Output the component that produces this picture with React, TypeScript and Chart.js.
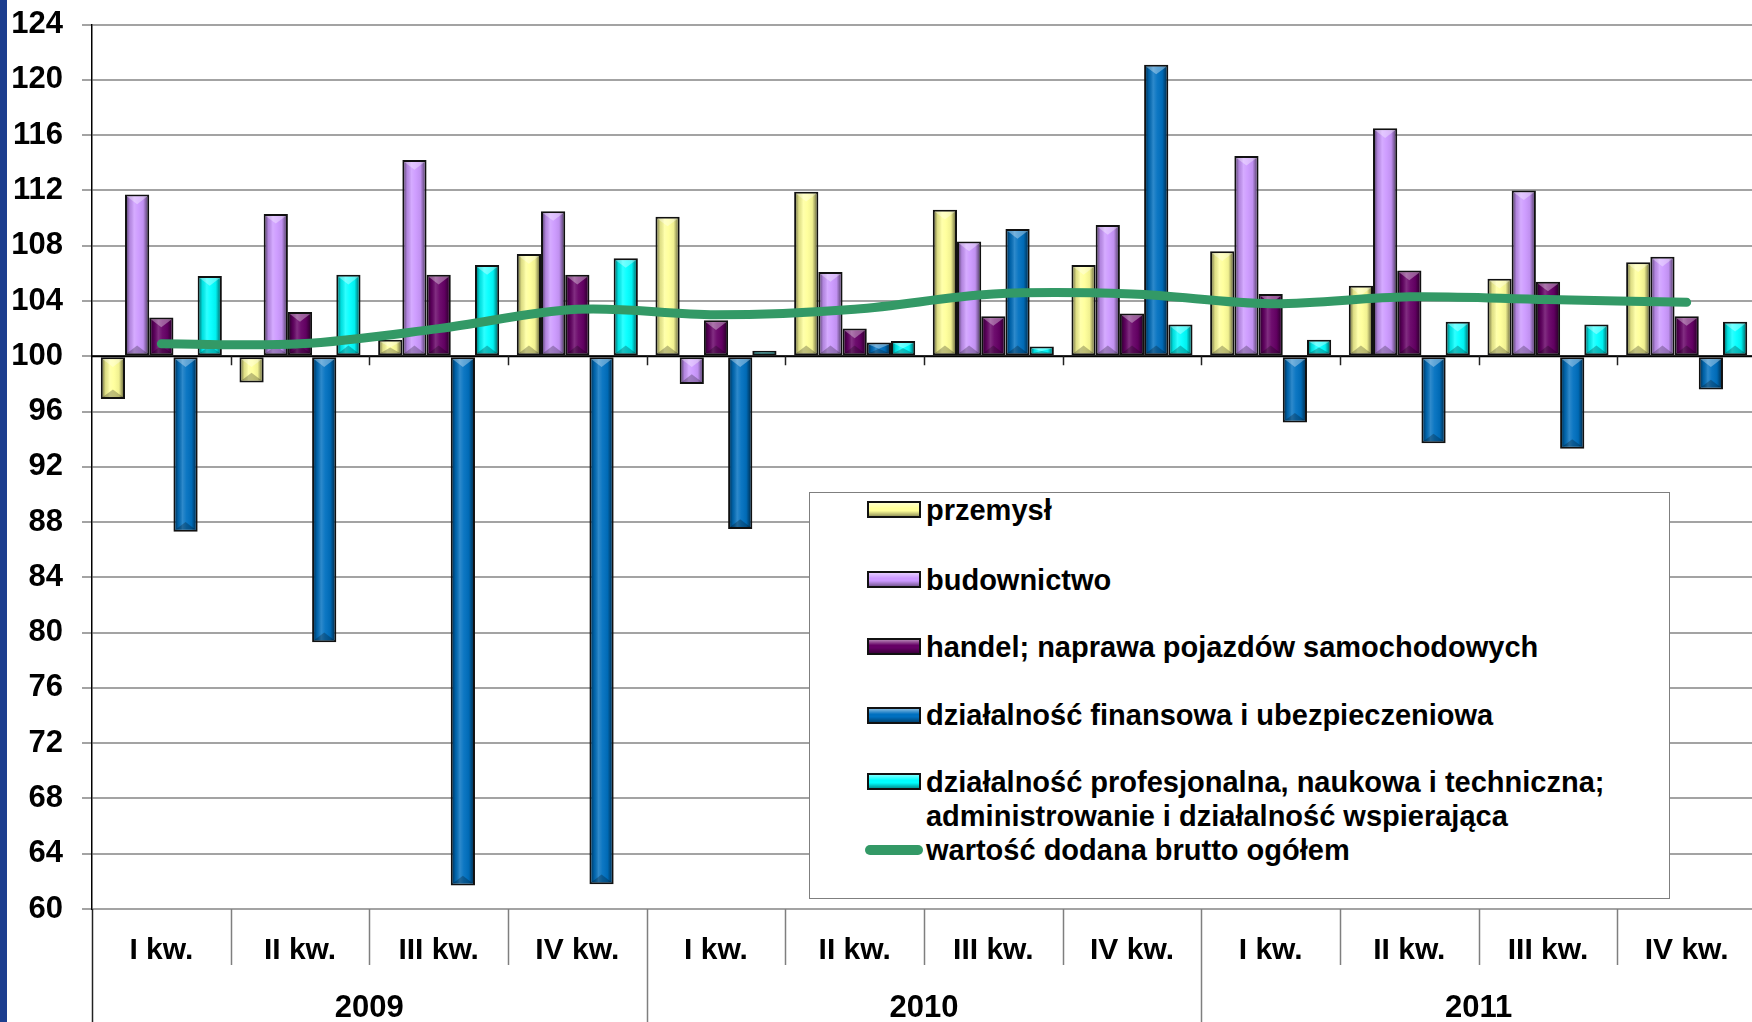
import React, { useEffect, useRef } from 'react';
import { Chart, registerables } from 'chart.js';

Chart.register(...registerables);

// ---------- DATA ----------
const quarterLabels = ['I kw.', 'II kw.', 'III kw.', 'IV kw.', 'I kw.', 'II kw.', 'III kw.', 'IV kw.', 'I kw.', 'II kw.', 'III kw.', 'IV kw.'];
const yearLabels = ['2009', '2010', '2011'];

const przemysl = [96.9, 98.1, 101.2, 107.4, 110.1, 111.9, 110.6, 106.6, 107.6, 105.1, 105.6, 106.8];
const budownictwo = [111.7, 110.3, 114.2, 110.5, 98.0, 106.1, 108.3, 109.5, 114.5, 116.5, 112.0, 107.2];
const handel = [102.8, 103.2, 105.9, 105.9, 102.6, 102.0, 102.9, 103.1, 104.5, 106.2, 105.4, 102.9];
const finanse = [87.3, 79.3, 61.7, 61.8, 87.5, 101.0, 109.2, 121.1, 95.2, 93.7, 93.3, 97.6];
const profesjonalna = [105.8, 105.9, 106.6, 107.1, 100.4, 101.1, 100.7, 102.3, 101.2, 102.5, 102.3, 102.5];
const wartoscDodana = [100.9, 100.9, 102.0, 103.4, 103.0, 103.4, 104.5, 104.5, 103.8, 104.3, 104.1, 103.9];

const barSeriesNames = [
  'przemysł',
  'budownictwo',
  'handel; naprawa pojazdów samochodowych',
  'działalność finansowa i ubezpieczeniowa',
  'działalność profesjonalna, naukowa i techniczna; administrowanie i działalność wspierająca',
];
const lineSeriesName = 'wartość dodana brutto ogółem';
const barColors = ['#FFFF99', '#CC99FF', '#660066', '#0070C0', '#00FFFF'];
const lineColor = '#339966';

const yMin = 60;
const yMax = 124;
const yStep = 4;
const baseValue = 100;

// ---------- STYLE ----------
const FONT = "'Liberation Sans', Arial, Helvetica, sans-serif";
const PAGE_W = 1752;
const PAGE_H = 1022;
const CANVAS_W = 1770;

const bevelPlugin = {
  id: 'bevel',
  afterDatasetDraw(chart: any, args: any) {
    const meta = args.meta;
    if (meta.type !== 'bar') return;
    const ctx = chart.ctx;
    ctx.save();
    meta.data.forEach((el: any) => {
      const p = el.getProps(['x', 'y', 'base', 'width'], true);
      const bw = 2;
      const l = p.x - p.width / 2 + bw;
      const r = p.x + p.width / 2 - bw;
      const t = Math.min(p.y, p.base) + bw;
      const b = Math.max(p.y, p.base) - bw;
      if (r - l <= 0 || b - t <= 0) return;
      const g = ctx.createLinearGradient(l, 0, r, 0);
      g.addColorStop(0, 'rgba(0,0,0,0.45)');
      g.addColorStop(0.14, 'rgba(0,0,0,0.12)');
      g.addColorStop(0.35, 'rgba(255,255,255,0.18)');
      g.addColorStop(0.55, 'rgba(255,255,255,0.05)');
      g.addColorStop(0.8, 'rgba(0,0,0,0.06)');
      g.addColorStop(0.9, 'rgba(0,0,0,0.28)');
      g.addColorStop(1, 'rgba(0,0,0,0.5)');
      ctx.fillStyle = g;
      ctx.fillRect(l, t, r - l, b - t);
      const w = r - l;
      const th = Math.min(w * 0.38, (b - t) / 2);
      const cx = (l + r) / 2;
      ctx.beginPath();
      ctx.moveTo(l, t);
      ctx.lineTo(r, t);
      ctx.lineTo(cx, t + th);
      ctx.closePath();
      ctx.fillStyle = 'rgba(255,255,255,0.35)';
      ctx.fill();
      ctx.beginPath();
      ctx.moveTo(l, b);
      ctx.lineTo(r, b);
      ctx.lineTo(cx, b - th);
      ctx.closePath();
      ctx.fillStyle = 'rgba(0,0,0,0.25)';
      ctx.fill();
    });
    ctx.restore();
  },
};

const axisDecorPlugin = {
  id: 'axisDecor',
  beforeDatasetsDraw(chart: any) {
    const { ctx, chartArea: ca, scales } = chart;
    const y100 = scales.y.getPixelForValue(baseValue);
    const n = quarterLabels.length;
    const step = (ca.right - ca.left) / n;
    ctx.save();
    ctx.strokeStyle = '#000';
    ctx.lineWidth = 2;
    ctx.beginPath();
    ctx.moveTo(ca.left, y100);
    ctx.lineTo(ca.right, y100);
    ctx.stroke();
    ctx.lineWidth = 1.5;
    ctx.strokeStyle = '#222';
    for (let i = 1; i < n; i++) {
      const x = Math.round(ca.left + step * i) + 0.5;
      ctx.beginPath();
      ctx.moveTo(x, y100);
      ctx.lineTo(x, y100 + 9);
      ctx.stroke();
    }
    ctx.restore();
  },
  afterDraw(chart: any) {
    const { ctx, chartArea: ca, scales } = chart;
    const n = quarterLabels.length;
    const step = (ca.right - ca.left) / n;
    ctx.save();
    for (let i = 0; i <= n; i++) {
      const x = Math.round(ca.left + step * i) + 0.5;
      const isYear = i % 4 === 0;
      const yEnd = isYear ? scales.x2.bottom : scales.x.bottom;
      ctx.strokeStyle = i === 0 ? '#222' : '#7f7f7f';
      ctx.lineWidth = 1.5;
      ctx.beginPath();
      ctx.moveTo(x, ca.bottom);
      ctx.lineTo(x, yEnd);
      ctx.stroke();
    }
    ctx.restore();
  },
};

export default function App() {
  const canvasRef = useRef<HTMLCanvasElement | null>(null);

  useEffect(() => {
    const canvas = canvasRef.current;
    if (!canvas) return;
    const barData = [przemysl, budownictwo, handel, finanse, profesjonalna];
    const datasets: any[] = barData.map((d, i) => ({
      type: 'bar',
      label: barSeriesNames[i],
      data: d,
      base: baseValue,
      backgroundColor: barColors[i],
      borderColor: '#111',
      borderWidth: 2,
      borderSkipped: false,
      barPercentage: 1,
      categoryPercentage: 0.873,
      order: 2,
    }));
    datasets.push({
      type: 'line',
      label: lineSeriesName,
      data: wartoscDodana,
      borderColor: lineColor,
      backgroundColor: lineColor,
      borderWidth: 9,
      borderCapStyle: 'round',
      borderJoinStyle: 'round',
      pointRadius: 0,
      tension: 0.35,
      fill: false,
      order: 0,
    });

    const chart = new Chart(canvas, {
      type: 'bar',
      data: { labels: quarterLabels, datasets },
      options: {
        animation: false,
        responsive: false,
        devicePixelRatio: 1,
        layout: { padding: { left: 0, right: CANVAS_W - 1756, top: 24.6, bottom: 0 } },
        plugins: { legend: { display: false }, tooltip: { enabled: false } },
        scales: {
          x: {
            type: 'category',
            position: 'bottom',
            offset: true,
            weight: 0,
            grid: { display: false, drawTicks: false },
            border: { display: false },
            ticks: {
              color: '#000',
              font: { family: FONT, size: 30, weight: 'bold' },
              padding: 23.5,
              maxRotation: 0,
              autoSkip: false,
            },
            afterFit: (s: any) => { s.height = 56; },
          },
          x2: {
            type: 'category',
            position: 'bottom',
            labels: yearLabels,
            offset: true,
            weight: 1,
            grid: { display: false, drawTicks: false },
            border: { display: false },
            ticks: {
              color: '#000',
              font: { family: FONT, size: 31, weight: 'bold' },
              padding: 24.5,
              maxRotation: 0,
              autoSkip: false,
            },
            afterFit: (s: any) => { s.height = 57; },
          },
          y: {
            min: yMin,
            max: yMax,
            grid: { color: '#a3a3a3', lineWidth: 2, tickLength: 10, drawTicks: true },
            border: { display: true, color: '#000', width: 1.5 },
            ticks: {
              stepSize: yStep,
              color: '#000',
              padding: 19,
              font: { family: FONT, size: 31, weight: 'bold', lineHeight: 0.35 },
            },
            afterFit: (s: any) => { s.width = 92; },
          },
        },
      },
      plugins: [axisDecorPlugin, bevelPlugin],
    } as any);
    return () => chart.destroy();
  }, []);

  const boxLeft = 808.6;
  const boxTop = 491.7;
  const swLeft = 57.4;
  const txtLeft = 116.4;
  const barRows = [17.3, 87.3, 154, 222.6, 289];
  const lineRow = 357.6;

  const swatch = (color: string) => ({
    position: 'absolute' as const,
    left: swLeft,
    width: 54,
    height: 17,
    boxSizing: 'border-box' as const,
    border: '2px solid #111',
    background: `linear-gradient(to bottom, rgba(255,255,255,0.5), rgba(255,255,255,0) 40%, rgba(0,0,0,0) 60%, rgba(0,0,0,0.4)), ${color}`,
  });

  const textStyle = {
    position: 'absolute' as const,
    left: txtLeft,
    fontFamily: FONT,
    fontWeight: 'bold' as const,
    fontSize: 29,
    color: '#000',
    whiteSpace: 'nowrap' as const,
  };

  return (
    <div style={{ position: 'fixed', left: 0, top: 0, width: PAGE_W, height: PAGE_H, overflow: 'hidden', background: '#fff' }}>
      <canvas
        ref={canvasRef}
        width={CANVAS_W}
        height={PAGE_H}
        style={{ position: 'absolute', left: 0, top: 0, width: CANVAS_W, height: PAGE_H }}
      />
      <div style={{ position: 'absolute', left: 0, top: 0, width: 7, height: PAGE_H, background: '#1c3e8f' }} />
      <div
        style={{
          position: 'absolute',
          left: boxLeft,
          top: boxTop,
          width: 861,
          height: 407,
          boxSizing: 'border-box',
          border: '1.5px solid #7f7f7f',
          background: '#fff',
        }}
      >
        {barSeriesNames.map((name, i) => {
          const c = barRows[i];
          if (i === 4) {
            const parts = name.split('; ');
            return (
              <React.Fragment key={name}>
                <div style={{ ...swatch(barColors[i]), top: c - 8.5 }} />
                <div style={{ ...textStyle, top: c - 17, lineHeight: '34px' }}>
                  {parts[0] + ';'}
                  <br />
                  {parts[1]}
                </div>
              </React.Fragment>
            );
          }
          return (
            <React.Fragment key={name}>
              <div style={{ ...swatch(barColors[i]), top: c - 8.5 }} />
              <div style={{ ...textStyle, top: c - 17, lineHeight: '34px' }}>{name}</div>
            </React.Fragment>
          );
        })}
        <div
          style={{
            position: 'absolute',
            left: swLeft - 2,
            top: lineRow - 5,
            width: 58,
            height: 10,
            borderRadius: 5,
            background: lineColor,
          }}
        />
        <div style={{ ...textStyle, top: lineRow - 17, lineHeight: '34px' }}>{lineSeriesName}</div>
      </div>
    </div>
  );
}
